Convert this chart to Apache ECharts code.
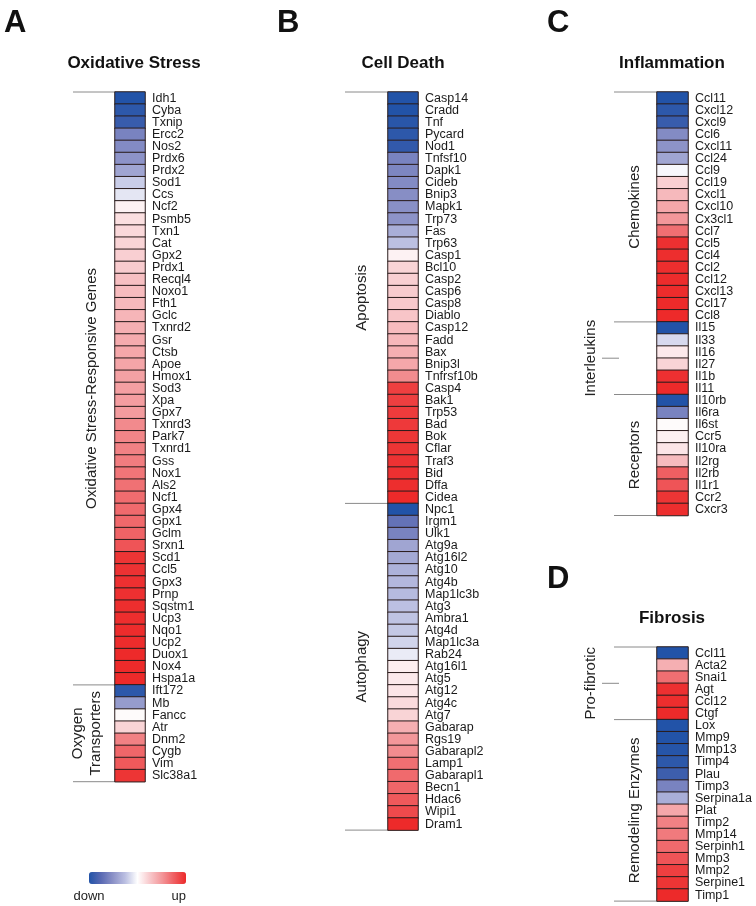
<!DOCTYPE html>
<html>
<head>
<meta charset="utf-8">
<script src="https://cdn.jsdelivr.net/npm/echarts@6/dist/echarts.min.js"></script>
<style>
  html, body { margin: 0; padding: 0; background: #fff; }
  #chart { width: 756px; height: 906px; }
</style>
</head>
<body>
<div id="chart"></div>
<script>
// A - oxidative stress
const oxGenes = ['Idh1','Cyba','Txnip','Ercc2','Nos2','Prdx6','Prdx2','Sod1','Ccs','Ncf2','Psmb5','Txn1','Cat','Gpx2','Prdx1','Recql4','Noxo1','Fth1','Gclc','Txnrd2','Gsr','Ctsb','Apoe','Hmox1','Sod3','Xpa','Gpx7','Txnrd3','Park7','Txnrd1','Gss','Nox1','Als2','Ncf1','Gpx4','Gpx1','Gclm','Srxn1','Scd1','Ccl5','Gpx3','Prnp','Sqstm1','Ucp3','Nqo1','Ucp2','Duox1','Nox4','Hspa1a'];
const oxVals = [-1,-0.95,-0.9,-0.6,-0.55,-0.5,-0.4,-0.2,-0.1,0.06,0.15,0.18,0.2,0.22,0.24,0.3,0.32,0.33,0.35,0.38,0.4,0.42,0.43,0.45,0.46,0.47,0.48,0.56,0.58,0.6,0.62,0.65,0.67,0.69,0.7,0.71,0.73,0.8,0.95,0.96,0.97,0.97,0.98,0.98,0.99,0.99,1,1,1];
const o2Genes = ['Ift172','Mb','Fancc','Atr','Dnm2','Cygb','Vim','Slc38a1'];
const o2Vals = [-0.95,-0.45,0.02,0.2,0.6,0.72,0.78,0.95];

// B - cell death
const apopGenes = ['Casp14','Cradd','Tnf','Pycard','Nod1','Tnfsf10','Dapk1','Cideb','Bnip3','Mapk1','Trp73','Fas','Trp63','Casp1','Bcl10','Casp2','Casp6','Casp8','Diablo','Casp12','Fadd','Bax','Bnip3l','Tnfrsf10b','Casp4','Bak1','Trp53','Bad','Bok','Cflar','Traf3','Bid','Dffa','Cidea'];
const apopVals = [-1,-1,-0.97,-0.95,-0.93,-0.6,-0.58,-0.55,-0.53,-0.52,-0.5,-0.35,-0.25,0.06,0.2,0.22,0.24,0.25,0.27,0.32,0.34,0.38,0.42,0.55,0.9,0.9,0.92,0.93,0.94,0.95,0.96,0.97,0.98,1];
const autoGenes = ['Npc1','Irgm1','Ulk1','Atg9a','Atg16l2','Atg10','Atg4b','Map1lc3b','Atg3','Ambra1','Atg4d','Map1lc3a','Rab24','Atg16l1','Atg5','Atg12','Atg4c','Atg7','Gabarap','Rgs19','Gabarapl2','Lamp1','Gabarapl1','Becn1','Hdac6','Wipi1','Dram1'];
const autoVals = [-1,-0.7,-0.6,-0.4,-0.38,-0.33,-0.3,-0.28,-0.25,-0.24,-0.22,-0.17,-0.08,0.08,0.1,0.12,0.17,0.2,0.38,0.5,0.55,0.68,0.7,0.72,0.78,0.85,1];

// C - inflammation
const chemoGenes = ['Ccl11','Cxcl12','Cxcl9','Ccl6','Cxcl11','Ccl24','Ccl9','Ccl19','Cxcl1','Cxcl10','Cx3cl1','Ccl7','Ccl5','Ccl4','Ccl2','Ccl12','Cxcl13','Ccl17','Ccl8'];
const chemoVals = [-1,-0.95,-0.9,-0.55,-0.5,-0.4,-0.03,0.22,0.33,0.42,0.5,0.68,0.97,0.98,0.98,0.99,0.99,1,1];
const ilGenes = ['Il15','Il33','Il16','Il27','Il1b','Il11'];
const ilVals = [-1,-0.15,0.1,0.2,0.97,1];
const recGenes = ['Il10rb','Il6ra','Il6st','Ccr5','Il10ra','Il2rg','Il2rb','Il1r1','Ccr2','Cxcr3'];
const recVals = [-1,-0.6,0.02,0.07,0.12,0.32,0.75,0.8,0.95,0.98];

// D - fibrosis
const proGenes = ['Ccl11','Acta2','Snai1','Agt','Ccl12','Ctgf'];
const proVals = [-1,0.38,0.68,0.97,0.98,1];
const remGenes = ['Lox','Mmp9','Mmp13','Timp4','Plau','Timp3','Serpina1a','Plat','Timp2','Mmp14','Serpinh1','Mmp3','Mmp2','Serpine1','Timp1'];
const remVals = [-1,-1,-0.98,-0.95,-0.88,-0.6,-0.35,0.42,0.6,0.63,0.7,0.8,0.9,0.95,1];

const ROW = 12.1;
const FONT = '"Liberation Sans", Arial, sans-serif';

const panels = [
  { letter: 'A', lx: 4, ly: 8, title: 'Oxidative Stress', tx: 134, ty: 63, left: 115, top: 92, width: 30, lineX: 73,
    groups: [
      { name: 'Oxidative Stress-Responsive Genes', genes: oxGenes, vals: oxVals, x: 92 },
      { name: 'Oxygen\nTransporters', genes: o2Genes, vals: o2Vals, x: 87 }
    ] },
  { letter: 'B', lx: 277, ly: 8, title: 'Cell Death', tx: 403, ty: 63, left: 388, top: 92, width: 30, lineX: 345,
    groups: [
      { name: 'Apoptosis', genes: apopGenes, vals: apopVals, x: 362 },
      { name: 'Autophagy', genes: autoGenes, vals: autoVals, x: 362 }
    ] },
  { letter: 'C', lx: 547, ly: 8, title: 'Inflammation', tx: 672, ty: 63, left: 657, top: 92, width: 31, lineX: 614,
    groups: [
      { name: 'Chemokines', genes: chemoGenes, vals: chemoVals, x: 635 },
      { name: 'Interleukins', genes: ilGenes, vals: ilVals, x: 591, tick: true },
      { name: 'Receptors', genes: recGenes, vals: recVals, x: 635 }
    ] },
  { letter: 'D', lx: 547, ly: 564, title: 'Fibrosis', tx: 672, ty: 618, left: 657, top: 647, width: 31, lineX: 614,
    groups: [
      { name: 'Pro-fibrotic', genes: proGenes, vals: proVals, x: 591, tick: true },
      { name: 'Remodeling Enzymes', genes: remGenes, vals: remVals, x: 635 }
    ] }
];

const chart = echarts.init(document.getElementById('chart'), null, { renderer: 'canvas' });

const grids = [], xAxes = [], yAxes = [], series = [], graphics = [];

panels.forEach(function (p, pi) {
  let genes = [], data = [];
  p.groups.forEach(function (g) {
    g.genes.forEach(function (name, k) {
      data.push([0, genes.length, g.vals[k]]);
      genes.push(name);
    });
  });

  grids.push({ left: p.left, top: p.top, width: p.width, height: genes.length * ROW });
  xAxes.push({ type: 'category', gridIndex: pi, data: [''], show: false });
  yAxes.push({
    type: 'category', gridIndex: pi, data: genes, inverse: true, position: 'right',
    axisLine: { show: false }, axisTick: { show: false }, splitLine: { show: false },
    axisLabel: { interval: 0, margin: 7, fontSize: 12.5, color: '#1a1a1a', fontFamily: FONT }
  });
  series.push({
    type: 'heatmap', xAxisIndex: pi, yAxisIndex: pi, data: data,
    itemStyle: { borderColor: '#2a1c1c', borderWidth: 1 },
    emphasis: { disabled: true }
  });

  // panel letter + title
  graphics.push({ type: 'text', left: p.lx, top: p.ly,
    style: { text: p.letter, font: 'bold 31px ' + FONT, fill: '#111' } });
  graphics.push({ type: 'text', x: p.tx, y: p.ty,
    style: { text: p.title, font: 'bold 17px ' + FONT, fill: '#111', align: 'center', verticalAlign: 'middle' } });

  // brackets and group labels
  let idx = 0;
  graphics.push({ type: 'line', shape: { x1: p.lineX, y1: p.top, x2: p.left, y2: p.top },
    style: { stroke: '#8a8a8a', lineWidth: 1 } });
  p.groups.forEach(function (g) {
    const y0 = p.top + idx * ROW;
    idx += g.genes.length;
    const y1 = p.top + idx * ROW;
    const cy = (y0 + y1) / 2;
    graphics.push({ type: 'line', shape: { x1: p.lineX, y1: y1, x2: p.left, y2: y1 },
      style: { stroke: '#8a8a8a', lineWidth: 1 } });
    if (g.tick) {
      graphics.push({ type: 'line', shape: { x1: 602, y1: cy, x2: 619, y2: cy },
        style: { stroke: '#8a8a8a', lineWidth: 1 } });
    }
    graphics.push({ type: 'text', x: g.x, y: cy, rotation: Math.PI / 2,
      style: { text: g.name, font: '15px ' + FONT, fill: '#222', align: 'center', verticalAlign: 'middle', lineHeight: 18 } });
  });
});

graphics.push({ type: 'text', x: 89, y: 896,
  style: { text: 'down', font: '13px ' + FONT, fill: '#222', align: 'center', verticalAlign: 'middle' } });
graphics.push({ type: 'text', x: 186, y: 896,
  style: { text: 'up', font: '13px ' + FONT, fill: '#222', align: 'right', verticalAlign: 'middle' } });

chart.setOption({
  animation: false,
  grid: grids,
  xAxis: xAxes,
  yAxis: yAxes,
  visualMap: {
    type: 'continuous', min: -1, max: 1, orient: 'horizontal',
    left: 89, top: 872, itemWidth: 12, itemHeight: 97, padding: 0,
    calculable: false, realtime: false, hoverLink: false, text: null,
    seriesIndex: [0, 1, 2, 3],
    inRange: { color: ['#2253a8', '#5a6ab3', '#8d93c8', '#bcc0e2', '#ffffff', '#f8c9cc', '#f3979a', '#ef5f62', '#ed2a2a'] }
  },
  graphic: graphics,
  series: series
});
</script>
</body>
</html>
